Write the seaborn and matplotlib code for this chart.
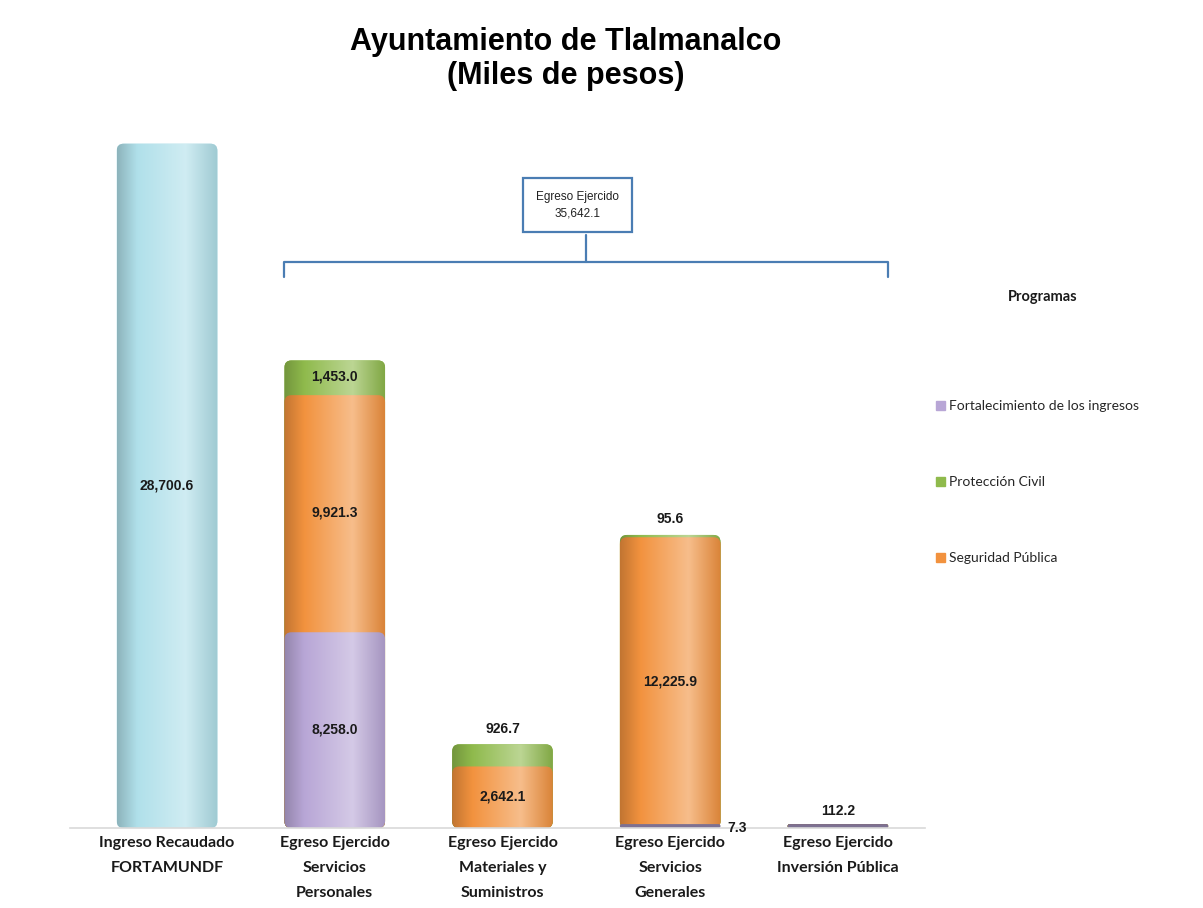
import numpy as np
import pandas as pd
import matplotlib
matplotlib.use('Agg')
import matplotlib.pyplot as plt
import seaborn as sns
from matplotlib.patches import Patch, FancyBboxPatch
from matplotlib.colors import LinearSegmentedColormap, to_rgb

# Data (miles de pesos)
categorias = ['Ingreso Recaudado\nFORTAMUNDF',
              'Egreso Ejercido\nServicios\nPersonales',
              'Egreso Ejercido\nMateriales y\nSuministros',
              'Egreso Ejercido\nServicios\nGenerales',
              'Egreso Ejercido\nInversión Pública']
ingreso = [28700.6, 0, 0, 0, 0]
fortalecimiento = [0, 8258.0, 0, 7.3, 112.2]
seguridad = [0, 9921.3, 2642.1, 12225.9, 0]
proteccion = [0, 1453.0, 926.7, 95.6, 0]
egreso_total = 35642.1

C_ING = '#b0e0ea'
C_FORT = '#b8a6d6'
C_SEG = '#f2923e'
C_PROT = '#8fba4c'

sns.set_theme(style='white')
plt.rcParams['font.family'] = ['Liberation Sans', 'DejaVu Sans']

fig = plt.figure(figsize=(12.03, 9.08), dpi=100)
ax = fig.add_axes([0.058, 0.088, 0.711, 0.758])

df = pd.DataFrame({'cat': categorias, 'ingreso': ingreso,
                   'fort': fortalecimiento, 'seg': seguridad, 'prot': proteccion})
df['c1'] = df['fort']
df['c2'] = df['c1'] + df['seg']
df['c3'] = df['c2'] + df['prot']

W = 0.6
# layered bars: tallest first so the lower segments paint over
sns.barplot(data=df, x='cat', y='ingreso', color=C_ING, width=W, saturation=1, ax=ax)
sns.barplot(data=df, x='cat', y='c3', color=C_PROT, width=W, saturation=1, ax=ax)
sns.barplot(data=df, x='cat', y='c2', color=C_SEG, width=W, saturation=1, ax=ax)
sns.barplot(data=df, x='cat', y='c1', color=C_FORT, width=W, saturation=1, ax=ax)

YMAX = 28800
ax.set_xlim(-0.58, 4.52)
ax.set_ylim(0, YMAX)


def cyl_cmap(c):
    r = np.array(to_rgb(c))
    dark = r * 0.80
    light = r + (1 - r) * 0.40
    return LinearSegmentedColormap.from_list(
        'cyl', [(0, dark), (0.2, r), (0.68, light), (1, r * 0.9)])


# turn each flat segment into a rounded, shaded "cylinder" piece
bb = ax.get_position()
px_x = (4.52 + 0.58) / (bb.width * 1203)      # data x per pixel
px_y = YMAX / (bb.height * 908)                # data y per pixel
aspect = px_y / px_x
grad = np.linspace(0, 1, 256).reshape(1, -1)
bars = [p for p in ax.patches if p.get_height() > 0]
for p in bars:
    x, y, w, h = p.get_x(), p.get_y(), p.get_width(), p.get_height()
    col = p.get_facecolor()[:3]
    p.set_visible(False)
    gap = 1.5 * px_y if h > 20 * px_y else 0
    y0, h0 = y + (gap if y > 0 else 0), h - gap * (2 if y > 0 else 1)
    rs = min(7 * px_x, h0 / aspect / 2)
    thin = h0 < 12 * px_y
    if thin:
        h0 = max(h0, 4 * px_y)
        rs = h0 / aspect / 2
    fb = FancyBboxPatch((x, y0), w, h0, boxstyle=f'round,pad=0,rounding_size={rs}',
                        mutation_aspect=aspect, transform=ax.transData,
                        fc=col, ec='none', zorder=2.3 if thin else 2)
    ax.add_patch(fb)
    if thin:
        fb.set_facecolor(np.array(col) * 0.68)
        continue
    im = ax.imshow(grad, extent=[x, x + w, y0, y0 + h0], aspect='auto',
                   cmap=cyl_cmap(col), zorder=2.1, interpolation='bicubic')
    im.set_clip_path(fb)

ax.set_xlim(-0.58, 4.52)
ax.set_ylim(0, YMAX)
ax.set_aspect('auto')
ax.set_xlabel('')
ax.set_ylabel('')
ax.set_yticks([])
for s in ['left', 'right', 'top']:
    ax.spines[s].set_visible(False)
ax.spines['bottom'].set_color('#d9d9d9')
ax.spines['bottom'].set_linewidth(1.2)
ax.tick_params(axis='x', length=0, pad=6)
for t in ax.get_xticklabels():
    t.set_fontfamily(['Lato', 'DejaVu Sans'])
    t.set_fontweight('bold')
    t.set_fontsize(11.5)
    t.set_linespacing(2.0)
    t.set_color('#1a1a1a')

lab = dict(ha='center', va='center', fontsize=10, fontweight='bold', color='#1a1a1a',
           zorder=5)
# value labels
for i in range(len(categorias)):
    if ingreso[i] > 0:
        ax.text(i, ingreso[i] / 2, f'{ingreso[i]:,.1f}', **lab)
    segs = [(0, fortalecimiento[i]), (fortalecimiento[i], seguridad[i]),
            (fortalecimiento[i] + seguridad[i], proteccion[i])]
    for k, (b, v) in enumerate(segs):
        if v <= 0:
            continue
        if v > 1200:
            ax.text(i, b + v / 2, f'{v:,.1f}', **lab)
        elif k == 0 and seguridad[i] > 0:
            ax.text(i + W / 2 + 0.04, b, f'{v:,.1f}', ha='left', va='center',
                    fontsize=10, fontweight='bold', color='#1a1a1a')
        else:
            ax.text(i, b + v + 300, f'{v:,.1f}', ha='center', va='bottom',
                    fontsize=10, fontweight='bold', color='#1a1a1a')

# bracket over the egreso bars
bc = '#4a7db3'
tr = ax.get_xaxis_transform()
x0, x1 = 1 - W / 2, 4 + W / 2
xm = (x0 + x1) / 2
ax.plot([x0, x0, x1, x1], [0.800, 0.823, 0.823, 0.800], color=bc, lw=1.6,
        transform=tr, clip_on=False)
ax.plot([xm, xm], [0.823, 0.862], color=bc, lw=1.6, transform=tr, clip_on=False)
ax.text(xm - 0.05, 0.905, f'Egreso Ejercido\n{egreso_total:,.1f}', transform=tr,
        ha='center', va='center', fontsize=8.5, color='#222222', linespacing=1.4,
        bbox=dict(boxstyle='square,pad=1.1', fc='white', ec=bc, lw=1.6))

# title
fig.text(0.47, 0.935, 'Ayuntamiento de Tlalmanalco\n(Miles de pesos)', ha='center',
         va='center', fontsize=22, fontweight='bold', linespacing=1.15, color='black')

# legend
fig.text(0.867, 0.673, 'Programas', ha='center', va='center', fontsize=10.5,
         fontweight='bold', family=['Lato', 'DejaVu Sans'], color='#1a1a1a')
handles = [Patch(color=C_FORT, label='Fortalecimiento de los ingresos'),
           Patch(color=C_PROT, label='Protección Civil'),
           Patch(color=C_SEG, label='Seguridad Pública')]
leg = fig.legend(handles=handles, loc='upper left', bbox_to_anchor=(0.768, 0.573),
                 frameon=False, labelspacing=4.6, handlelength=0.6,
                 handleheight=0.6, handletextpad=0.3,
                 prop={'family': ['Lato', 'DejaVu Sans'], 'size': 10})

fig.savefig('out.png', dpi=100)
